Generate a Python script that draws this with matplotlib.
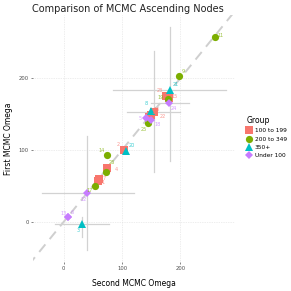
import matplotlib
matplotlib.use("Agg")
import matplotlib.pyplot as plt
import numpy as np

# data (second MCMC omega, first MCMC omega)
groups = ["100 to 199", "200 to 349", "350+", "Under 100"]
colors = {"100 to 199": "#F8766D", "200 to 349": "#7CAE00", "350+": "#00BFC4", "Under 100": "#C77CFF"}
markers = {"100 to 199": "s", "200 to 349": "o", "350+": "^", "Under 100": "D"}

labels = ["1", "2", "3", "4", "5", "6", "7", "8", "9", "10", "11", "12", "13",
          "14", "15", "16", "17", "18", "19", "20", "21", "22", "23", "24", "25", "26"]
second = [61, 103, 32, 75, 141, 8, 59, 149, 197, 146, 259, 39, 7,
          75, 181, 150, 54, 149, 178, 107, 183, 154, 175, 181, 144, 73]
first = [60, 100, -3, 75, 144, 7, 57, 155, 203, 146, 258, 40, 6,
         93, 172, 149, 50, 142, 171, 99, 183, 153, 175, 165, 138, 69]
group = ["100 to 199", "100 to 199", "350+", "100 to 199", "Under 100", "Under 100",
         "100 to 199", "350+", "200 to 349", "100 to 199", "200 to 349", "Under 100",
         "Under 100", "200 to 349", "100 to 199", "100 to 199", "200 to 349", "Under 100",
         "200 to 349", "350+", "350+", "100 to 199", "100 to 199", "Under 100",
         "200 to 349", "200 to 349"]

# interval bars (only a few points have them)
bar_labels = ["21", "24", "22", "12", "3"]
x_lo = [85, 149, 108, -38, -15]
x_hi = [278, 215, 199, 120, 77]
y_lo = [84, np.nan, 69, -40, -21]
y_hi = [272, np.nan, 238, 119, 7]

# label nudges in points (layout only)
nudge = {"1": (3, -3), "2": (-4, 4), "3": (-3, -5), "4": (6, -1), "5": (-4, 0), "6": (3, 3),
         "7": (4, 2), "8": (-3, 5), "9": (3, 3), "10": (4, 3), "11": (4, 1), "12": (-2, -5),
         "13": (-3, 3), "14": (-4, 3), "15": (4, 1), "16": (4, 4), "17": (-4, -3), "18": (5, -3),
         "19": (-5, 1), "20": (4, 4), "21": (4, 4), "22": (7, -3), "23": (-4, 4), "24": (3, -4),
         "25": (-3, -5), "26": (4, 7)}

fig = plt.figure(figsize=(2.91, 2.91), dpi=100)
ax = fig.add_axes([0.113, 0.1, 0.695, 0.848])

ax.set_xlim(-53, 294)
ax.set_ylim(-56, 288)

# y = x reference
ax.plot([-60, 300], [-60, 300], color="#cfcfcf", lw=1.4, ls=(0, (5, 3.5)), zorder=1)

for b, xl, xh, yl, yh in zip(bar_labels, x_lo, x_hi, y_lo, y_hi):
    i = labels.index(b)
    ax.plot([xl, xh], [first[i], first[i]], color="#d2d2d2", lw=0.9, zorder=2)
    if not np.isnan(yl):
        ax.plot([second[i], second[i]], [yl, yh], color="#d2d2d2", lw=0.9, zorder=2)

for g in groups:
    xs = [s for s, gg in zip(second, group) if gg == g]
    ys = [f for f, gg in zip(first, group) if gg == g]
    ms = 4.2 if markers[g] == "D" else 5.2
    ax.plot(xs, ys, ls="none", marker=markers[g], color=colors[g], ms=ms,
            mew=0, label=g, zorder=3)

for lab, s, f, g in zip(labels, second, first, group):
    dx, dy = nudge[lab]
    ax.annotate(lab, (s, f), xytext=(dx, dy), textcoords="offset points",
                ha="center", va="center", fontsize=3.6, color=colors[g], alpha=0.75, zorder=4)

ax.set_xticks([0, 100, 200])
ax.set_yticks([0, 100, 200])
ax.grid(True, color="#dcdcdc", lw=0.5, ls=(0, (1, 1.5)))
ax.set_axisbelow(True)
for sp in ax.spines.values():
    sp.set_visible(False)
ax.tick_params(length=1.5, width=0.5, color="#555555", labelsize=3.8, labelcolor="#4d4d4d", pad=1.5)

ax.set_xlabel("Second MCMC Omega", fontsize=5.5, labelpad=6)
ax.set_ylabel("First MCMC Omega", fontsize=5.5, labelpad=4)
fig.text(0.11, 0.985, "Comparison of MCMC Ascending Nodes", fontsize=7, va="top", ha="left",
         color="#222222")

leg = ax.legend(title="Group", loc="center left", bbox_to_anchor=(1.045, 0.505), frameon=False,
                fontsize=4.2, title_fontsize=5.5, handlelength=1, handletextpad=0.4,
                labelspacing=0.55, borderaxespad=0)
leg._legend_box.align = "left"

fig.savefig("out.png", dpi=100)
